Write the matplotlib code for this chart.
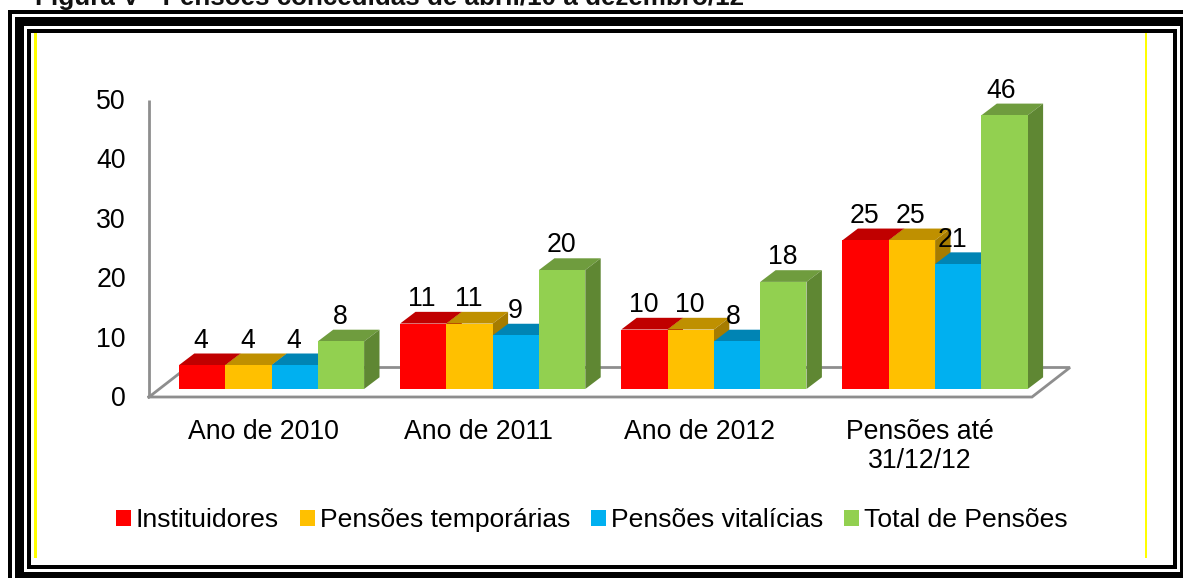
import matplotlib
matplotlib.use("Agg")
import matplotlib.pyplot as plt
from matplotlib.patches import Polygon, Rectangle, Patch

plt.rcParams['font.family'] = ['Liberation Sans', 'DejaVu Sans']

# ---- data ----
title_text = "Figura V - Pensões concedidas de abril/10 a dezembro/12"
categories = ["Ano de 2010", "Ano de 2011", "Ano de 2012", "Pensões até\n31/12/12"]
institutores = [4, 11, 10, 25]
temporarias = [4, 11, 10, 25]
vitalicias = [4, 9, 8, 21]
total = [8, 20, 18, 46]
series_names = ["Instituidores", "Pensões temporárias", "Pensões vitalícias", "Total de Pensões"]
y_ticks = [0, 10, 20, 30, 40, 50]

# ---- styles ----
front_colors = ["#FF0000", "#FFC000", "#00B0F0", "#92D050"]
top_colors = ["#C00000", "#BF9000", "#0084B4", "#6F9C3E"]
side_colors = ["#AE0000", "#A67C00", "#00729C", "#5F8733"]
AXIS_GREY = "#8E8E8E"
FS = 19.2

W, H = 1183, 578
fig = plt.figure(figsize=(W / 100, H / 100), dpi=100)

# pixel-space layer: frame, walls and floor
bg = fig.add_axes([0, 0, 1, 1])
bg.set_xlim(0, W)
bg.set_ylim(H, 0)
bg.axis("off")


def rect(x0, y0, x1, y1, color="black", z=1):
    bg.add_patch(Rectangle((x0, y0), x1 - x0, y1 - y0, facecolor=color, edgecolor="none", zorder=z))


# outer thin frame
rect(8, 10, 1183, 14)
rect(8, 10, 12, 578)
# thick frame
rect(15, 17, 1183, 26)
rect(15, 17, 24, 578)
rect(15, 572, 1180, 578)
rect(1180, 17, 1183, 578)
# inner thin frame
rect(27, 29, 1177, 33)
rect(27, 29, 31, 569)
rect(27, 565, 1177, 569)
rect(1173, 29, 1177, 569)
# yellow rules
rect(34, 33, 37, 558, "#FFFF00")
rect(1145, 33, 1147.5, 558, "#FFFF00")

bg.text(35, 5.5, title_text, fontsize=18.7, fontweight="bold", color="#111111",
        ha="left", va="baseline", clip_on=False)

# wall + floor outline
bg.plot([149, 149], [100, 397], color=AXIS_GREY, lw=2.0, solid_capstyle="butt", zorder=2)
bg.plot([149, 1032, 1070, 187, 149], [397, 397, 367.5, 367.5, 397], color=AXIS_GREY, lw=2.0,
        solid_joinstyle="miter", zorder=2)

# value-scaled layer: x = category index, y = value
PX_X, PX_Y = 221.2, 5.95
X0_PX, Y0_PX = 271.5, 389
ax = fig.add_axes([0, 0, 1, 1])
ax.patch.set_alpha(0)
ax.set_xlim((0 - X0_PX) / PX_X, (W - X0_PX) / PX_X)
ax.set_ylim((Y0_PX - H) / PX_Y, Y0_PX / PX_Y)
ax.axis("off")

bar_w = 46.3 / PX_X
dx, dy = 15.4 / PX_X, 11.7 / PX_Y
all_series = [institutores, temporarias, vitalicias, total]
z = 5
for g in range(len(categories)):
    for s, values in enumerate(all_series):
        v = values[g]
        left = g + (s - 2) * bar_w
        right = left + bar_w
        ax.add_patch(Polygon([(left, v), (right, v), (right + dx, v + dy), (left + dx, v + dy)],
                             facecolor=top_colors[s], edgecolor="none", zorder=z))
        ax.add_patch(Polygon([(right, 0), (right + dx, dy), (right + dx, v + dy), (right, v)],
                             facecolor=side_colors[s], edgecolor="none", zorder=z))
        ax.bar(left, v, width=bar_w, align="edge", color=front_colors[s], zorder=z + 1,
               edgecolor="none")
        z += 2

# data labels
label_nudge = {(3, 2): -5 / PX_X, (2, 2): -3 / PX_X, (3, 3): -2 / PX_X}
for g in range(len(categories)):
    for s, values in enumerate(all_series):
        v = values[g]
        x = g + (s - 1.5) * bar_w + (label_nudge.get((g, s), 0) - 1 / PX_X)
        ax.text(x, v + 17.5 / PX_Y, str(v), fontsize=FS, ha="center", va="baseline",
                color="black", zorder=100)

# value-axis labels (wall baseline sits 8 px below the bar baseline)
wall_scale = 5.94 / PX_Y
for t in y_ticks:
    ax.text((126 - X0_PX) / PX_X, t * wall_scale - 17 / PX_Y, str(t), fontsize=FS,
            ha="right", va="baseline", color="black", zorder=100)

# category labels
cat_nudge = [-8.5, -14.5, -14, -15]
for g, name in enumerate(categories):
    ax.text(g + cat_nudge[g] / PX_X, (Y0_PX - 419) / PX_Y, name, fontsize=FS, ha="center",
            va="top", linespacing=1.17, color="black", zorder=100)

# legend
handles = [Patch(facecolor=c, edgecolor="none", label=n) for c, n in zip(front_colors, series_names)]
ax.legend(handles=handles, ncols=4, frameon=False, fontsize=19.05,
          loc="center", bbox_to_anchor=(592 / W, 1 - 520 / H), bbox_transform=fig.transFigure,
          handlelength=0.54, handleheight=0.54, handletextpad=0.2, columnspacing=0.8,
          borderpad=0, borderaxespad=0)

fig.savefig("out.png", dpi=100, facecolor="white")
